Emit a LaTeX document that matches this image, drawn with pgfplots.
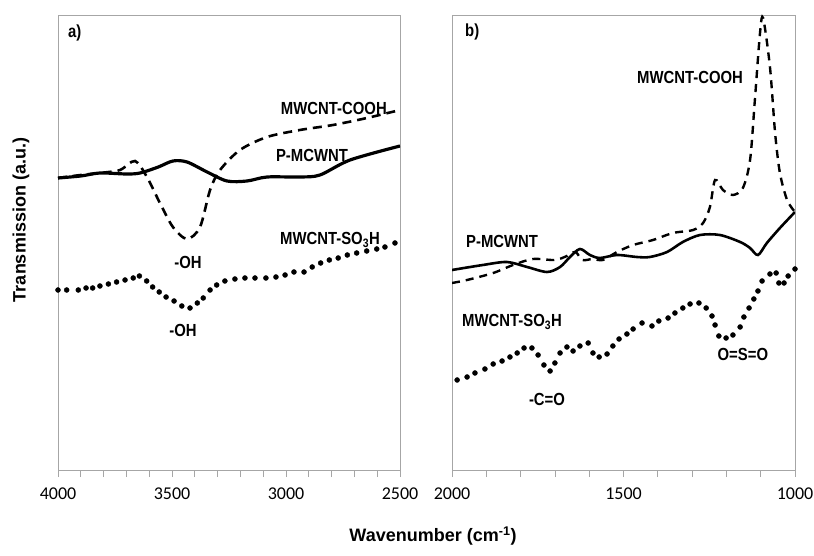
\documentclass[border=0pt]{standalone}
\usepackage{fontspec}
\setmainfont{Liberation Sans}
\newfontfamily\annfont[FakeStretch=0.85]{Liberation Sans}
\newfontfamily\tickfont{Carlito}
\usepackage{pgfplots}
\usepackage{pgfplotstable}
\pgfplotsset{compat=1.18}

\pgfplotstableread{
x y
4000 292
3900 294
3816 297
3700 296
3640 297
3560 303
3496 309
3434 308
3346 298
3259 289
3171 289
3083 293
2939 293
2851 295
2719 310
2500 324
}\leftsolid

\pgfplotstableread{
x y
4000 292
3900 295
3816 297
3728 300
3662 309
3610 293
3553 267
3496 243
3434 231
3377 243
3333 280
3289 300
3202 320
3083 333
2939 340
2794 345
2645 352
2500 360
}\leftdash

\pgfplotstableread{
x y
4000 180
3962 180
3911 180
3877 182
3848 182
3816 184
3779 186
3743 188
3706 190
3670 192
3643 194
3611 189
3585 183
3556 178
3526 173
3491 169
3457 164
3421 162
3389 167
3363 172
3333 180
3304 185
3268 189
3224 191
3180 192
3136 192
3088 192
3044 193
3004 195
2965 198
2921 198
2885 203
2848 207
2810 210
2771 212
2731 215
2690 217
2646 219
2602 221
2566 223
2522 227
}\leftdot

\pgfplotstableread{
x y
2000 200
1910 205
1840 208
1781 203
1723 198
1685 203
1656 213
1627 221
1598 215
1569 212
1519 215
1461 213
1423 213
1373 218
1327 228
1277 235
1219 235
1160 228
1131 222
1108 215
1082 227
1044 242
1000 258
}\rightsolid

\pgfplotstableread{
x y
2000 187
1956 190
1880 197
1822 205
1764 211
1700 210
1665 214
1640 218
1620 210
1590 211
1560 210
1519 218
1472 225
1414 230
1356 237
1297 240
1268 247
1248 263
1233 290
1210 280
1181 275
1152 282
1131 310
1117 370
1102 437
1093 452
1073 403
1058 337
1044 297
1023 270
1000 258
}\rightdash

\pgfplotstableread{
x y
1985 90
1956 93
1933 97
1904 101
1880 106
1854 109
1831 113
1810 117
1790 122
1767 122
1749 115
1732 105
1714 99
1700 107
1685 117
1665 123
1647 119
1627 124
1603 127
1589 117
1571 113
1548 116
1531 124
1513 131
1490 136
1472 141
1446 147
1417 144
1397 149
1370 152
1350 157
1327 162
1306 166
1280 167
1259 162
1242 154
1233 145
1222 134
1201 132
1181 135
1160 143
1149 153
1134 162
1120 171
1108 179
1096 189
1073 196
1055 197
1047 187
1032 187
1020 194
1000 201
}\rightdot

\pgfplotsset{
  irpanel/.style={
    scale only axis,
    width=342bp,
    height=455bp,
    anchor=south west,
    x dir=reverse,
    ymin=0, ymax=455,
    ytick=\empty,
    xtick pos=bottom,
    tick align=outside,
    major tick length=7bp,
    minor tick length=7bp,
    minor x tick num=4,
    axis line style={gray!70, line width=0.8pt},
    every tick/.style={gray!70, line width=0.8pt},
    /pgf/number format/assume math mode=true,
    /pgf/number format/1000 sep={},
    xticklabel style={font=\tickfont\fontsize{18bp}{18bp}\selectfont, text=black, yshift=-7bp},
    clip=true,
  },
}
\tikzset{ann/.style={font=\annfont\bfseries\fontsize{17.5bp}{17.5bp}\selectfont, inner sep=0pt}}

\begin{document}
\begin{tikzpicture}
\path[use as bounding box] (0,0) rectangle (814bp,556bp);

\begin{axis}[irpanel, at={(58bp,86bp)}, xmin=2500, xmax=4000, xtick={2500,3000,3500,4000}]
\addplot[black, line width=3.2pt, smooth, tension=0.5] table {\leftsolid};
\addplot[black, line width=2.6pt, dash pattern=on 9bp off 6bp, smooth, tension=0.5] table {\leftdash};
\addplot[black, only marks, mark=*, mark size=2.5bp] table {\leftdot};
\node[ann, anchor=west] at (axis cs:3956,437) {a)};
\node[ann] at (axis cs:2790,362) {MWCNT-COOH};
\node[ann] at (axis cs:2886,315) {P-MCWNT};
\node[ann] at (axis cs:2807,230) {MWCNT-SO\textsubscript{3}H};
\node[ann] at (axis cs:3430,208) {-OH};
\node[ann] at (axis cs:3452,140) {-OH};
\end{axis}

\begin{axis}[irpanel, at={(452bp,86bp)}, width=343bp, xmin=1000, xmax=2000, xtick={1000,1500,2000}]
\addplot[black, line width=2.6pt, smooth, tension=0.5] table {\rightsolid};
\addplot[black, line width=2.4pt, dash pattern=on 8bp off 6bp, smooth, tension=0.5] table {\rightdash};
\addplot[black, only marks, mark=*, mark size=2.5bp] table {\rightdot};
\node[ann, anchor=west] at (axis cs:1962,438) {b)};
\node[ann] at (axis cs:1306,393) {MWCNT-COOH};
\node[ann] at (axis cs:1854,229) {P-MCWNT};
\node[ann] at (axis cs:1825,148) {MWCNT-SO\textsubscript{3}H};
\node[ann] at (axis cs:1723,71) {-C=O};
\node[ann] at (axis cs:1152,116) {O=S=O};
\end{axis}

\node[rotate=90, font=\bfseries\fontsize{18bp}{18bp}\selectfont] at (21bp,336bp) {Transmission (a.u.)};
\node[font=\bfseries\fontsize{18bp}{18bp}\selectfont] at (433bp,20bp) {Wavenumber (cm\textsuperscript{-1})};
\end{tikzpicture}
\end{document}
